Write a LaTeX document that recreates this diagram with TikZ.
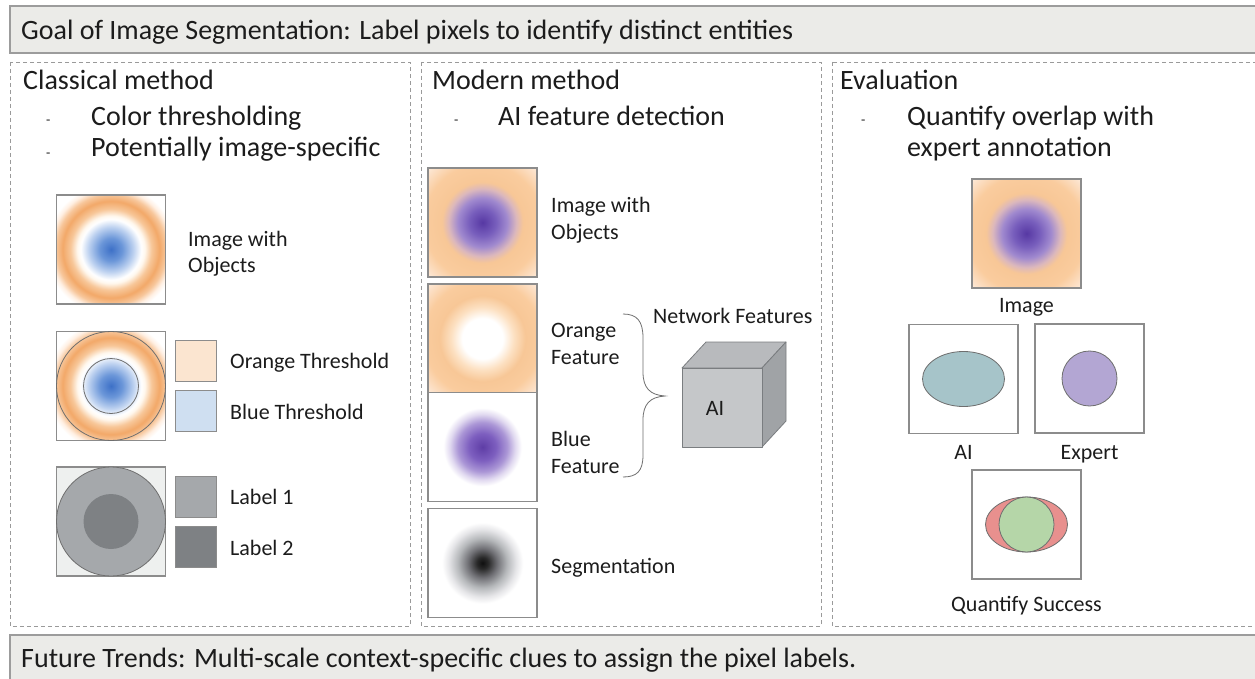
\documentclass[tikz,border=0pt]{standalone}
\usepackage{fontspec}
\setmainfont{Carlito}
\usetikzlibrary{calc}

\definecolor{ink}{HTML}{1C1C1C}
\definecolor{boxline}{HTML}{8C8C8C}
\definecolor{panelline}{HTML}{9A9A9A}
\definecolor{barline}{HTML}{9C9C9C}
\definecolor{barfill}{HTML}{EBEBE8}
\definecolor{orangeswatch}{HTML}{FBE5D0}
\definecolor{blueswatch}{HTML}{CFDFF1}
\definecolor{labelone}{HTML}{A5A8AB}
\definecolor{labeltwo}{HTML}{7E8184}
\definecolor{labelbg}{HTML}{EEF0EF}
\definecolor{cubefront}{HTML}{C5C7C9}
\definecolor{cubetop}{HTML}{B8BABD}
\definecolor{cubeside}{HTML}{A0A3A6}
\definecolor{cubeedge}{HTML}{7A7D80}
\definecolor{aifill}{HTML}{A6C4C9}
\definecolor{expertfill}{HTML}{B3A6D3}
\definecolor{missfill}{HTML}{E8908E}
\definecolor{hitfill}{HTML}{B5D6A8}
\definecolor{shapeline}{HTML}{6E6E6E}

% orange ring around a blue core
\pgfdeclareradialshading{ringblue}{\pgfpoint{0bp}{0bp}}{%
  rgb(0bp)=(0.24,0.44,0.78);
  rgb(5.2bp)=(0.42,0.59,0.85);
  rgb(10.3bp)=(0.74,0.82,0.94);
  rgb(13.9bp)=(1,1,1);
  rgb(15.5bp)=(1,0.97,0.93);
  rgb(18.6bp)=(0.97,0.78,0.60);
  rgb(22.2bp)=(0.95,0.66,0.41);
  rgb(25.3bp)=(0.97,0.78,0.61);
  rgb(27.8bp)=(1,0.94,0.89);
  rgb(29.9bp)=(1,1,1);
  rgb(50bp)=(1,1,1)}
% orange field around a purple core
\pgfdeclareradialshading{fieldpurple}{\pgfpoint{0bp}{0bp}}{%
  rgb(0bp)=(0.34,0.22,0.64);
  rgb(6.2bp)=(0.47,0.37,0.74);
  rgb(11.3bp)=(0.63,0.54,0.81);
  rgb(15.5bp)=(0.86,0.72,0.74);
  rgb(18.6bp)=(0.97,0.78,0.59);
  rgb(26.8bp)=(0.98,0.80,0.62);
  rgb(33.5bp)=(0.99,0.89,0.80);
  rgb(40.2bp)=(1,1,1);
  rgb(50bp)=(1,1,1)}
% orange field with an empty core
\pgfdeclareradialshading{fieldempty}{\pgfpoint{0bp}{0bp}}{%
  rgb(0bp)=(1,1,1);
  rgb(9.3bp)=(1,1,1);
  rgb(14.4bp)=(0.99,0.88,0.76);
  rgb(19.6bp)=(0.97,0.78,0.59);
  rgb(26.8bp)=(0.98,0.80,0.62);
  rgb(33.5bp)=(0.99,0.89,0.80);
  rgb(40.2bp)=(1,1,1);
  rgb(50bp)=(1,1,1)}
% purple core only
\pgfdeclareradialshading{corepurple}{\pgfpoint{0bp}{0bp}}{%
  rgb(0bp)=(0.37,0.24,0.65);
  rgb(6.2bp)=(0.49,0.37,0.75);
  rgb(11.3bp)=(0.67,0.59,0.84);
  rgb(15bp)=(0.88,0.85,0.94);
  rgb(18bp)=(1,1,1);
  rgb(50bp)=(1,1,1)}
% dark core only
\pgfdeclareradialshading{coredark}{\pgfpoint{0bp}{0bp}}{%
  rgb(0bp)=(0.06,0.06,0.06);
  rgb(2.6bp)=(0.16,0.16,0.16);
  rgb(6.7bp)=(0.44,0.44,0.46);
  rgb(11.3bp)=(0.71,0.72,0.73);
  rgb(15.5bp)=(0.90,0.90,0.91);
  rgb(18.6bp)=(1,1,1);
  rgb(50bp)=(1,1,1)}

\tikzset{
  txt/.style={font=\fontsize{22}{26}\selectfont, text=ink, inner sep=0pt},
  lbl/.style={txt, anchor=base west},
  clbl/.style={txt, anchor=base},
  head/.style={font=\fontsize{28}{32}\selectfont, text=ink, inner sep=0pt, anchor=base west},
  bulletmark/.style={font=\fontsize{14}{16}\selectfont, text=ink, inner sep=0pt, anchor=base west},
  imgbox/.style={draw=boxline, line width=1.1pt, minimum size=109pt, inner sep=0pt},
  swatch/.style={draw=boxline, line width=0.9pt, minimum size=41pt, inner sep=0pt},
  panel/.style={draw=panelline, line width=0.9pt, dash pattern=on 4pt off 3pt},
  bar/.style={draw=barline, fill=barfill, line width=1.6pt},
  outline/.style={draw=shapeline, line width=0.8pt},
}

\begin{document}
\begin{tikzpicture}[x=1pt, y=-1pt]
\useasboundingbox (0,0) rectangle (1255,679);
\fill[white] (0,0) rectangle (1255,679);

% ---------- banners ----------
\draw[bar] (10,6) rectangle (1268,53);
\node[head] (goal) at (21,40) {Goal of Image Segmentation: Label pixels to identify distinct entities};
\draw[bar] (10,635) rectangle (1268,692);
\node[head] (future) at (21,667) {Future Trends: Multi-scale context-specific clues to assign the pixel labels.};

% ---------- panels ----------
\draw[panel] (10,62) rectangle (410,626);
\draw[panel] (421,62) rectangle (821,626);
\draw[panel] (832,62) rectangle (1268,626);

% ---------- classical method ----------
\node[head] (classical) at (23,90) {Classical method};
\node[bulletmark] (cb1) at (46,125) {-};
\node[head] (cl1) at (91,126) {Color thresholding};
\node[bulletmark] (cb2) at (46,158) {-};
\node[head] (cl2) at (91,157) {Potentially image-specific};

\node[imgbox, shading=ringblue] (cimg) at (111,249.5) {};
\node[lbl] (cimgt1) at (188,246) {Image with};
\node[lbl] (cimgt2) at (188,272) {Objects};

\node[imgbox, shading=ringblue] (cthr) at (111,386) {};
\draw[outline] (cthr.center) circle[radius=54.5pt];
\draw[outline] (cthr.center) circle[radius=27.5pt];
\node[swatch, fill=orangeswatch] (sworange) at (195.5,360.5) {};
\node[swatch, fill=blueswatch] (swblue) at (195.5,411) {};
\node[lbl] (tworange) at (230,368) {Orange Threshold};
\node[lbl] (twblue) at (230,419) {Blue Threshold};

\node[imgbox, fill=labelbg] (clab) at (111,521.5) {};
\draw[outline, fill=labelone] (clab.center) circle[radius=54.5pt];
\fill[labeltwo] (clab.center) circle[radius=27.5pt];
\node[swatch, fill=labelone] (swl1) at (196,496.5) {};
\node[swatch, fill=labeltwo] (swl2) at (196,547) {};
\node[lbl] (tl1) at (230,504) {Label 1};
\node[lbl] (tl2) at (230,555) {Label 2};

% ---------- modern method ----------
\node[head] (modern) at (432,90) {Modern method};
\node[bulletmark] (mb1) at (454,125) {-};
\node[head] (ml1) at (498,126) {AI feature detection};

\node[imgbox, shading=fieldpurple] (mimg) at (482.5,222.5) {};
\node[imgbox, shading=fieldempty] (morange) at (482.5,338.5) {};
\node[imgbox, shading=corepurple] (mblue) at (482.5,447) {};
\node[imgbox, shading=coredark] (mseg) at (482.5,563) {};
\node[lbl] (mimgt1) at (551,213) {Image with};
\node[lbl] (mimgt2) at (551,240) {Objects};
\node[lbl] (mort1) at (551,337) {Orange};
\node[lbl] (mort2) at (551,364) {Feature};
\node[lbl] (mblt1) at (551,446) {Blue};
\node[lbl] (mblt2) at (551,473) {Feature};
\node[lbl] (msegt) at (551,573) {Segmentation};

% brace gathering the two feature maps
\coordinate (bracetop) at (623,314);
\coordinate (bracetip) at (665,396);
\coordinate (bracebot) at (623,477);
\draw[draw=shapeline, line width=0.8pt]
  (bracetop) .. controls (637,314) and (643,321) .. (643,338)
  -- (643,372) .. controls (643,388) and (650,395) .. (bracetip)
  .. controls (650,397) and (643,404) .. (643,420)
  -- (643,455) .. controls (643,471) and (637,477) .. (bracebot);

\node[lbl] (netfeat) at (653,323) {Network Features};

% the network drawn as a cube
\filldraw[fill=cubetop, draw=cubeedge, line width=0.8pt, line join=round]
  (682,368) -- (706,342) -- (786,342) -- (762,368) -- cycle;
\filldraw[fill=cubeside, draw=cubeedge, line width=0.8pt, line join=round]
  (762,368) -- (786,342) -- (786,421) -- (762,447) -- cycle;
\filldraw[fill=cubefront, draw=cubeedge, line width=0.8pt, line join=round]
  (682,368) rectangle (762,447);
\node[txt] (ainet) at (715,408) {AI};

% ---------- evaluation ----------
\node[head] (evaluation) at (840,90) {Evaluation};
\node[bulletmark] (eb1) at (861,125) {-};
\node[head] (el1) at (907,126) {Quantify overlap with};
\node[head] (el2) at (907,157) {expert annotation};

\node[imgbox, shading=fieldpurple] (eimg) at (1026.5,233.5) {};
\node[clbl] (eimgt) at (1026.5,312) {Image};

\node[imgbox] (eai) at (963.5,379) {};
\draw[outline, fill=aifill] (eai.center) ellipse[x radius=41pt, y radius=27.5pt];
\node[imgbox] (eexp) at (1089.5,378.5) {};
\draw[outline, fill=expertfill] (eexp.center) circle[radius=27.5pt];
\node[clbl] (eait) at (963.5,459) {AI};
\node[clbl] (eexpt) at (1089.5,459) {Expert};

\node[imgbox] (eq) at (1026.5,524.5) {};
\draw[outline, fill=missfill] (eq.center) ellipse[x radius=41pt, y radius=27.5pt];
\draw[outline, fill=hitfill] (eq.center) circle[radius=27.5pt];
\node[clbl] (eqt) at (1026.5,611) {Quantify Success};
\end{tikzpicture}
\end{document}
